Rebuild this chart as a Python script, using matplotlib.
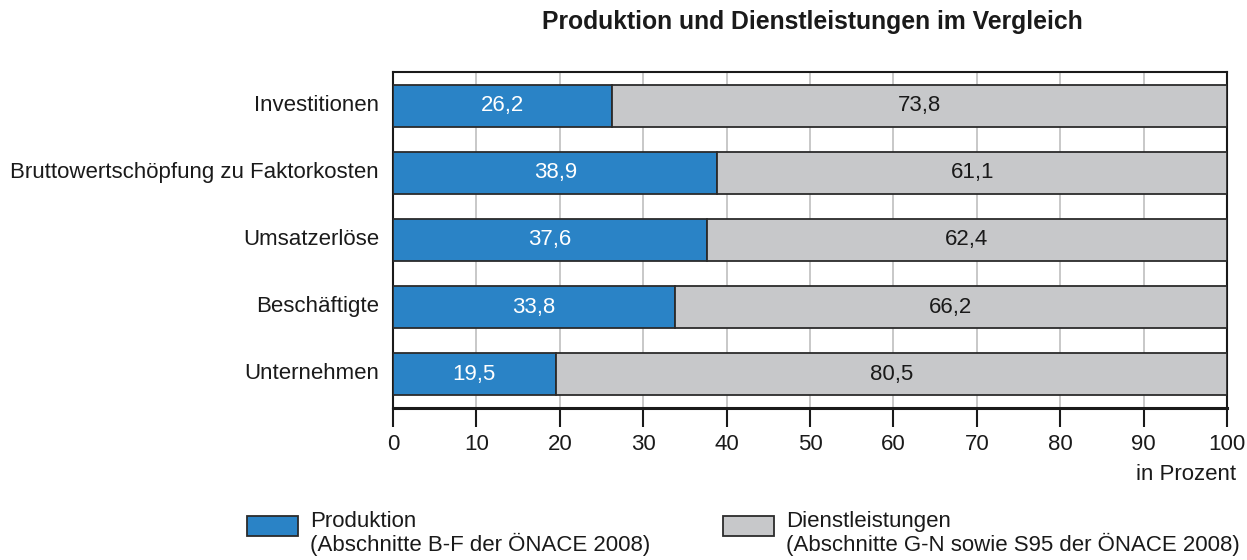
import matplotlib.pyplot as plt
import matplotlib.patches as mpatches
import matplotlib.transforms as mtransforms

plt.rcParams['font.family'] = ['Liberation Sans', 'DejaVu Sans']

categories = ['Unternehmen', 'Beschäftigte', 'Umsatzerlöse',
              'Bruttowertschöpfung zu Faktorkosten', 'Investitionen']
produktion = [19.5, 33.8, 37.6, 38.9, 26.2]
dienstleistungen = [80.5, 66.2, 62.4, 61.1, 73.8]
xticks = [0, 10, 20, 30, 40, 50, 60, 70, 80, 90, 100]

blue = '#2a83c6'
grey = '#c7c8ca'
edge = '#2b2b2b'
fs = 16

fig = plt.figure(figsize=(12.47, 5.6), dpi=100)
ax = fig.add_axes([393 / 1247, 1 - 408 / 560, (1227 - 393) / 1247, 336 / 560])

y = range(len(categories))
h = 0.627
ax.barh(y, produktion, height=h, color=blue, edgecolor=edge, linewidth=1.3, zorder=3)
ax.barh(y, dienstleistungen, left=produktion, height=h, color=grey,
        edgecolor=edge, linewidth=1.3, zorder=3)

for i, (p, d) in enumerate(zip(produktion, dienstleistungen)):
    ax.text(p / 2, i, f'{p:.1f}'.replace('.', ','), ha='center', va='center',
            color='white', fontsize=fs, zorder=4)
    ax.text(p + d / 2, i, f'{d:.1f}'.replace('.', ','), ha='center', va='center',
            color='#1a1a1a', fontsize=fs, zorder=4)

ax.set_xlim(0, 100)
ax.set_ylim(-0.507, 4.507)
ax.set_xticks(xticks)
ax.set_yticks(list(y))
ax.set_yticklabels(categories)
ax.tick_params(axis='y', length=0, pad=10, labelsize=fs, labelcolor='#1a1a1a')
ax.tick_params(axis='x', direction='out', length=14, width=1.5, pad=5,
               labelsize=fs, labelcolor='#1a1a1a', color='#1a1a1a')
# category labels sit a little above the bar centre in the reference
shift = mtransforms.ScaledTranslation(0, 3 / 100, fig.dpi_scale_trans)
for lab in ax.get_yticklabels():
    lab.set_transform(lab.get_transform() + shift)
ax.xaxis.grid(True, color='#c4c4c4', linewidth=1.3, zorder=0)
ax.set_axisbelow(True)
for s in ['top', 'left', 'right']:
    ax.spines[s].set_linewidth(1.5)
    ax.spines[s].set_color('#1a1a1a')
ax.spines['bottom'].set_linewidth(2.2)
ax.spines['bottom'].set_color('#1a1a1a')

fig.text(812 / 1247, 1 - 22 / 560, 'Produktion und Dienstleistungen im Vergleich',
         ha='center', va='center', fontsize=17.8, fontweight='bold', color='#1a1a1a')
fig.text(1236 / 1247, 1 - 475 / 560, 'in Prozent', ha='right', va='center',
         fontsize=fs, color='#1a1a1a')

# legend drawn manually in figure coordinates
legend_items = [
    (247, blue, 'Produktion\n(Abschnitte B-F der ÖNACE 2008)'),
    (723, grey, 'Dienstleistungen\n(Abschnitte G-N sowie S95 der ÖNACE 2008)'),
]
for x0, col, label in legend_items:
    fig.patches.append(mpatches.Rectangle((x0 / 1247, 1 - 536 / 560), 51 / 1247, 20 / 560,
                                          transform=fig.transFigure, facecolor=col,
                                          edgecolor=edge, linewidth=1.3))
    fig.text((x0 + 63) / 1247, 1 - 511 / 560, label, ha='left', va='top',
             fontsize=fs, color='#1a1a1a', linespacing=1.05)

fig.savefig('out.png', dpi=100)
